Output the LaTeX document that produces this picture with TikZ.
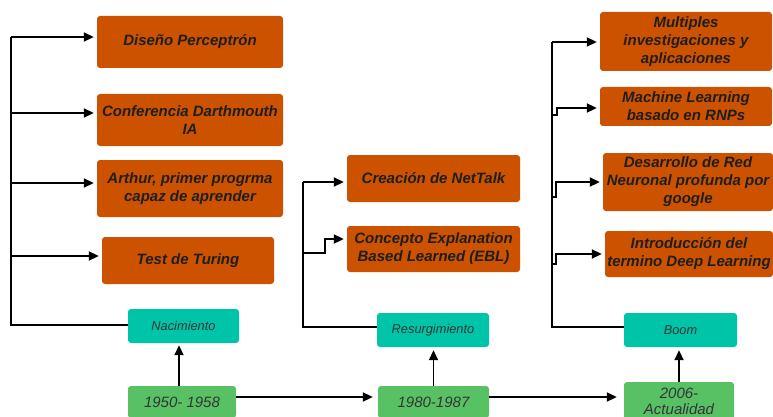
\documentclass[tikz,border=0pt]{standalone}
\usepackage{fontspec}
\setmainfont{Liberation Sans}
\usetikzlibrary{arrows.meta}
\definecolor{burnt}{HTML}{CC5200}
\definecolor{eraTeal}{HTML}{00C4A8}
\definecolor{periodGreen}{HTML}{57C163}
\definecolor{ink}{HTML}{1E1E1E}
\begin{document}
\begin{tikzpicture}[x=1pt,y=-1pt,
  event/.style={fill=burnt, rounded corners=3pt, align=center, inner sep=1pt,
    font=\fontsize{15}{18}\selectfont\bfseries\itshape, text=ink},
  era/.style={fill=eraTeal, rounded corners=3pt, align=center, inner sep=1pt,
    font=\fontsize{12.8}{15}\selectfont\itshape, text=ink!90,
    minimum height=34pt},
  period/.style={fill=periodGreen, rounded corners=3pt, align=center, inner sep=1pt,
    font=\fontsize{15}{16}\selectfont\itshape, text=ink!90},
  link/.style={line width=1.9pt, black},
  arr/.style={link, -{Triangle[length=10pt,width=9pt]}, shorten >=3pt}]
\clip (0,0) rectangle (773,417);
\useasboundingbox (0,0) rectangle (773,417);

% ---- 1950-1958 ----
\node[event, minimum width=186pt, minimum height=52pt] (dis) at (190,42) {Diseño Perceptrón};
\node[event, minimum width=186pt, minimum height=52pt] (conf) at (190,120) {Conferencia Darthmouth\\IA};
\node[event, minimum width=186pt, minimum height=57pt] (art) at (190,188.5) {Arthur, primer progrma\\capaz de aprender};
\node[event, minimum width=172pt, minimum height=47pt] (tur) at (188,260.5) {Test de Turing};
\node[era, minimum width=111pt] (nac) at (183.5,326) {Nacimiento};
\node[period, minimum width=108pt, minimum height=32pt] (p1) at (182,402) {1950- 1958};

% ---- 1980-1987 ----
\node[event, minimum width=173pt, minimum height=47pt] (net) at (433.5,178.5) {Creación de NetTalk};
\node[event, minimum width=173pt, minimum height=46pt] (ebl) at (433.5,249) {Concepto Explanation\\Based Learned (EBL)};
\node[era, minimum width=112pt] (res) at (433,330) {Resurgimiento};
\node[period, minimum width=111pt, minimum height=32pt] (p2) at (433.5,402) {1980-1987};

% ---- 2006-Actualidad ----
\node[event, minimum width=172pt, minimum height=59pt] (mult) at (686,41.5) {Multiples\\investigaciones y\\aplicaciones};
\node[event, minimum width=172pt, minimum height=39pt] (ml) at (686,106.5) {Machine Learning\\basado en RNPs};
\node[event, minimum width=170pt, minimum height=58pt] (des) at (688,182) {Desarrollo de Red\\Neuronal profunda por\\google};
\node[event, minimum width=168pt, minimum height=46pt] (intro) at (689,254) {Introducción del\\termino Deep Learning};
\node[era, minimum width=113pt] (boom) at (680.5,330) {Boom};
\node[period, minimum width=110pt, minimum height=38pt] (p3) at (679,401) {2006-\\Actualidad};

% left branch
\coordinate (l1) at (11,37);
\coordinate (l2) at (11,113);
\coordinate (l3) at (11,183);
\coordinate (l4) at (11,256);
\coordinate (lN) at (11,325);
\draw[link] (l1) -- (lN) -- (lN -| nac.west);
\draw[arr] (l1) -- (l1 -| dis.west);
\draw[arr] (l2) -- (l2 -| conf.west);
\draw[arr] (l3) -- (l3 -| art.west);
\draw[arr] (l4) -- (l4 -| tur.west);

% middle branch
\coordinate (m1) at (303,182);
\coordinate (m2) at (303,253);
\coordinate (mN) at (303,327);
\draw[link] (m1) -- (mN) -- (mN -| res.west);
\draw[arr] (m1) -- (m1 -| net.west);
\draw[arr] (m2) -- ++(22,0) |- ([yshift=10pt]ebl.west);

% right branch
\coordinate (r1) at (552,42);
\coordinate (r2) at (552,115);
\coordinate (r3) at (552,197);
\coordinate (r4) at (552,264);
\coordinate (rN) at (552,327);
\draw[link] (r1) -- (rN) -- (rN -| boom.west);
\draw[arr] (r1) -- (r1 -| mult.west);
\draw[arr] (r2) -- ++(5,0) |- ([yshift=-1.5pt]ml.west);
\draw[arr] (r3) -- ++(4,0) |- (des.west);
\draw[arr] (r4) -- ++(4,0) |- (intro.west);

% timeline
\draw[arr, shorten >=2pt] ([xshift=-3pt]p1.north) -- ([xshift=-3pt]p1.north |- nac.south);
\draw[arr] (p2.north) -- (p2.north |- res.south);
\draw[arr] (p3.north) -- (p3.north |- boom.south);
\draw[arr, shorten >=5pt] ([yshift=5pt]p1.east) -- ([yshift=5pt]p1.east -| p2.west);
\draw[arr, shorten >=7pt] ([yshift=5pt]p2.east) -- ([yshift=5pt]p2.east -| p3.west);
\end{tikzpicture}
\end{document}
